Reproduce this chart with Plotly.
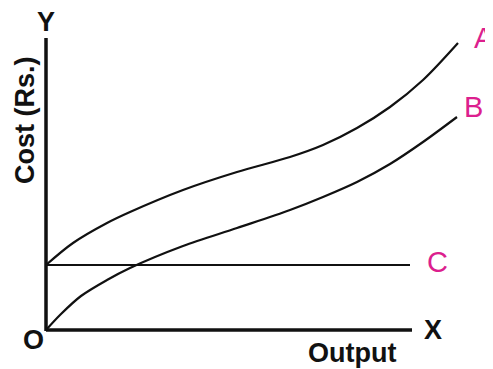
import plotly.graph_objects as go

# output levels (x) and cost values
output_a = [0, 27, 61, 84, 137, 191, 244, 277, 311, 344, 377, 412]
cost_a = [65, 87, 107, 118, 140, 158, 173, 185, 202, 223, 250, 287]

output_b = [0, 15, 35, 61, 84, 137, 191, 244, 277, 311, 344, 377, 411]
cost_b = [0, 16, 34, 50, 62, 84, 102, 120, 133, 148, 166, 188, 213]

output_c = [0, 364]
cost_c = [65, 65]

x_axis_end = 366
y_axis_end = 292

_INK = "#111111"
_PINK = "#dc1f8e"
_FONT = "Liberation Sans, Arial, sans-serif"

fig = go.Figure()

curve_line = dict(color=_INK, width=2.2, shape="spline", smoothing=0.9)
fig.add_trace(go.Scatter(x=output_a, y=cost_a, mode="lines", line=curve_line))
fig.add_trace(go.Scatter(x=output_b, y=cost_b, mode="lines", line=curve_line))
fig.add_trace(go.Scatter(x=output_c, y=cost_c, mode="lines", line=dict(color=_INK, width=2.2)))

# axes drawn as plain lines
fig.add_shape(type="line", x0=0, y0=0, x1=x_axis_end, y1=0, line=dict(color=_INK, width=3.5))
fig.add_shape(type="line", x0=0, y0=-1, x1=0, y1=y_axis_end, line=dict(color=_INK, width=3.5))

black = dict(family=_FONT, size=27, color=_INK)
pink = dict(family=_FONT, size=29, color=_PINK)

labels = [
    ("<b>Y</b>", 0, 308, black, 0),
    ("<b>X</b>", 387, 0, black, 0),
    ("<b>O</b>", -13, -10, black, 0),
    ("<b>Output</b>", 306, -23, black, 0),
    ("<b>Cost (Rs.)</b>", -21, 210, black, -90),
    ("A", 438, 292, pink, 0),
    ("B", 427, 223, pink, 0),
    ("C", 391, 68, pink, 0),
]
for text, x, y, font, angle in labels:
    fig.add_annotation(x=x, y=y, text=text, showarrow=False, font=font, textangle=angle)

# the page adds an 8px body margin, so the figure is 8px smaller and shifted
fig.update_layout(
    width=485,
    height=361,
    margin=dict(l=0, r=0, t=0, b=0),
    paper_bgcolor="white",
    plot_bgcolor="white",
    showlegend=False,
)
fig.update_xaxes(range=[-38, 447], visible=False)
fig.update_yaxes(range=[-39, 322], visible=False)

fig.write_html("out.html")
